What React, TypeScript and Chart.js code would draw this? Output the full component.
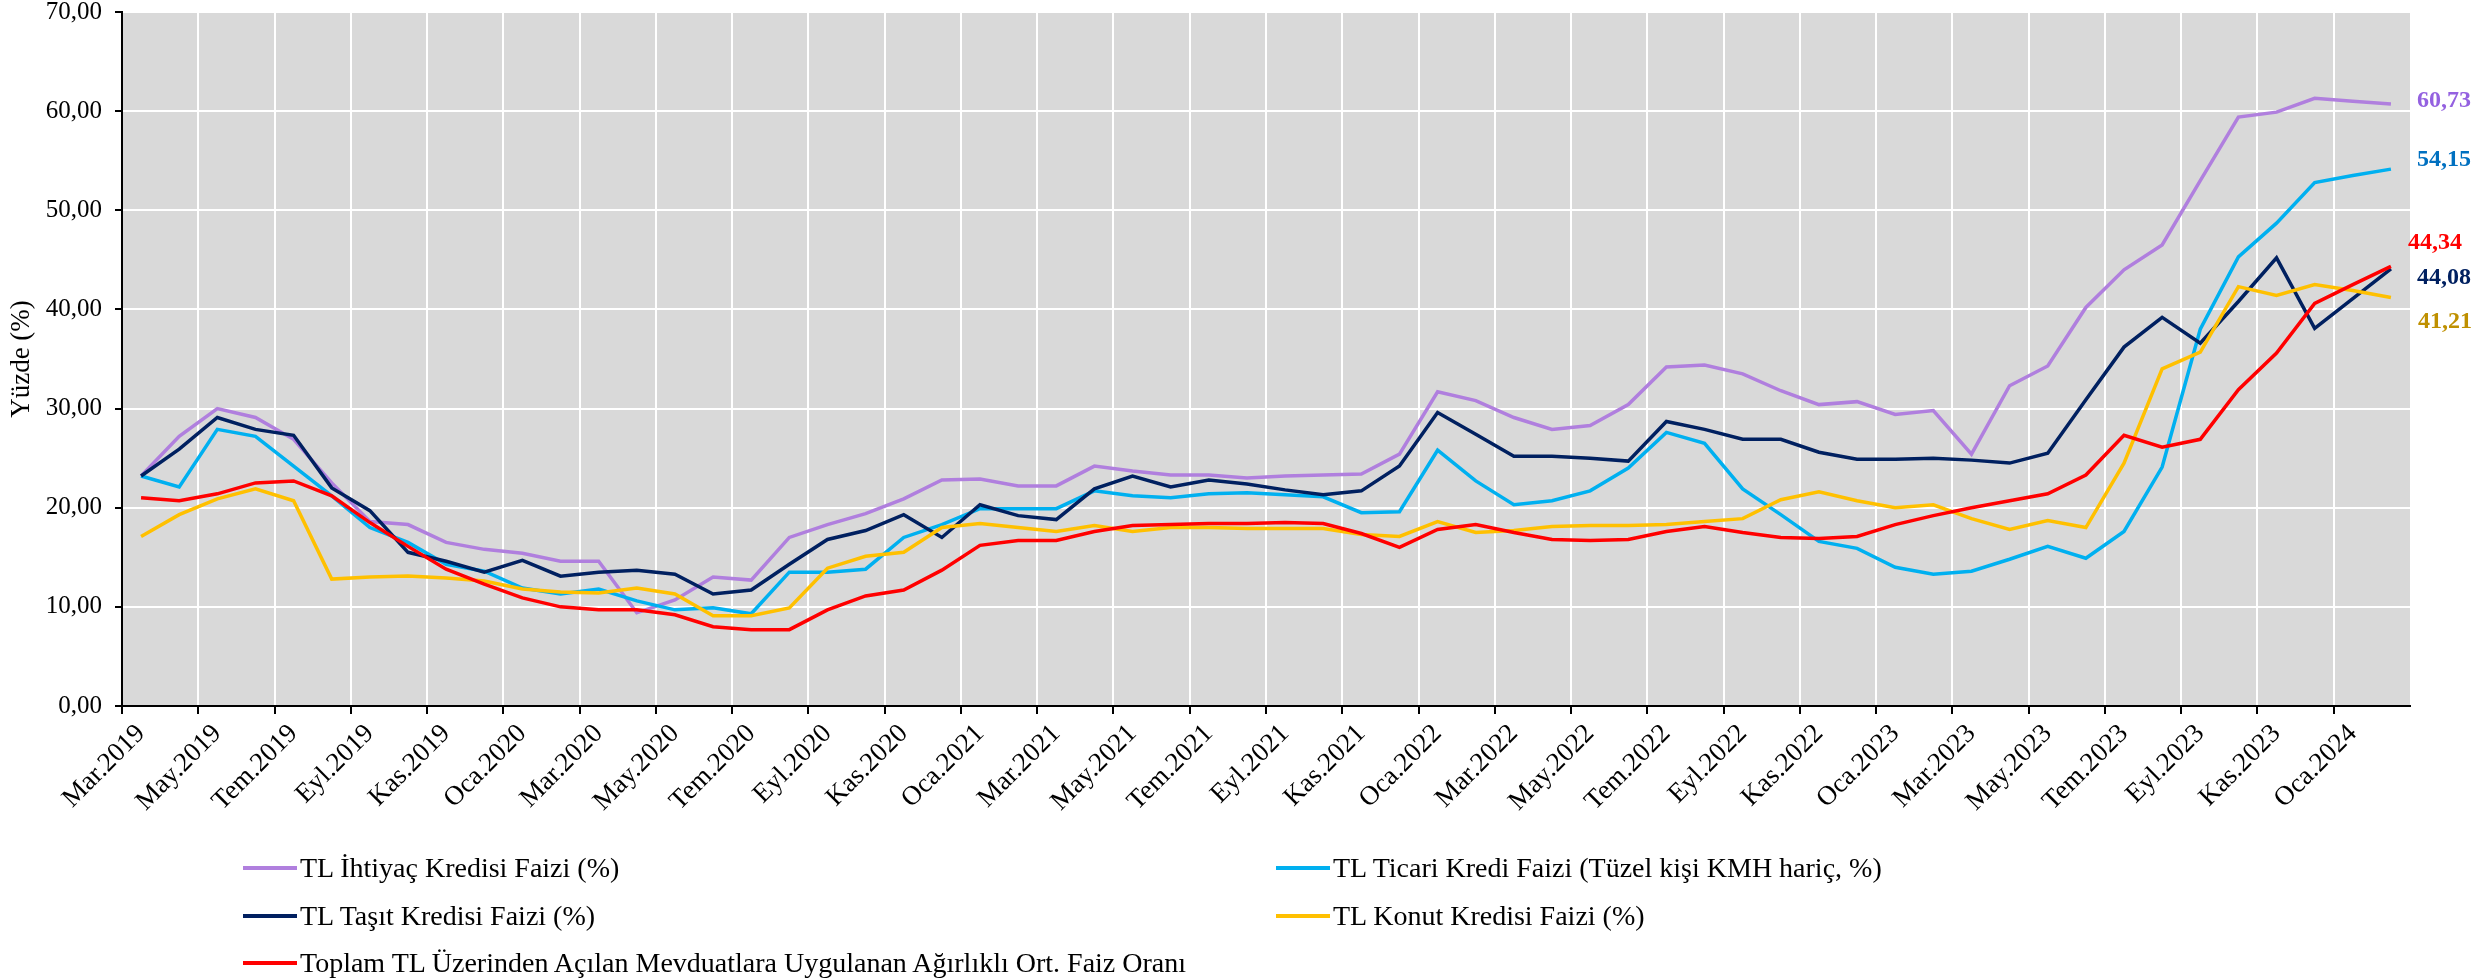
import React, { useEffect, useRef } from 'react';
import { Chart, registerables } from 'chart.js';

Chart.register(...registerables);

const categories = [
  'Mar.2019', 'Nis.2019', 'May.2019', 'Haz.2019', 'Tem.2019', 'Ağu.2019', 'Eyl.2019', 'Eki.2019', 'Kas.2019', 'Ara.2019',
  'Oca.2020', 'Şub.2020', 'Mar.2020', 'Nis.2020', 'May.2020', 'Haz.2020', 'Tem.2020', 'Ağu.2020', 'Eyl.2020', 'Eki.2020', 'Kas.2020', 'Ara.2020',
  'Oca.2021', 'Şub.2021', 'Mar.2021', 'Nis.2021', 'May.2021', 'Haz.2021', 'Tem.2021', 'Ağu.2021', 'Eyl.2021', 'Eki.2021', 'Kas.2021', 'Ara.2021',
  'Oca.2022', 'Şub.2022', 'Mar.2022', 'Nis.2022', 'May.2022', 'Haz.2022', 'Tem.2022', 'Ağu.2022', 'Eyl.2022', 'Eki.2022', 'Kas.2022', 'Ara.2022',
  'Oca.2023', 'Şub.2023', 'Mar.2023', 'Nis.2023', 'May.2023', 'Haz.2023', 'Tem.2023', 'Ağu.2023', 'Eyl.2023', 'Eki.2023', 'Kas.2023', 'Ara.2023',
  'Oca.2024', 'Şub.2024',
];

const ihtiyac = [
  23.2, 27.2, 30.0, 29.1, 26.9, 22.5, 18.6, 18.3, 16.5, 15.8,
  15.4, 14.6, 14.6, 9.4, 10.7, 13.0, 12.7, 17.0, 18.3, 19.4,
  20.9, 22.8, 22.9, 22.2, 22.2, 24.2, 23.7, 23.3, 23.3, 23.0,
  23.2, 23.3, 23.4, 25.4, 31.7, 30.8, 29.1, 27.9, 28.3, 30.4,
  34.2, 34.4, 33.5, 31.8, 30.4, 30.7, 29.4, 29.8, 25.4, 32.3,
  34.3, 40.2, 44.0, 46.5, 53.0, 59.4, 59.9, 61.3, 61.0, 60.73,
];

const ticari = [
  23.2, 22.1, 27.9, 27.2, 24.2, 21.2, 18.0, 16.5, 14.3, 13.6,
  11.9, 11.3, 11.8, 10.6, 9.7, 9.9, 9.3, 13.5, 13.5, 13.8,
  17.0, 18.3, 19.9, 19.9, 19.9, 21.7, 21.2, 21.0, 21.4, 21.5,
  21.3, 21.1, 19.5, 19.6, 25.8, 22.7, 20.3, 20.7, 21.7, 24.0,
  27.6, 26.5, 21.9, 19.3, 16.6, 15.9, 14.0, 13.3, 13.6, 14.8,
  16.1, 14.9, 17.6, 24.1, 38.0, 45.3, 48.7, 52.8, 53.5, 54.15,
];

const tasit = [
  23.2, 25.9, 29.1, 27.9, 27.3, 22.0, 19.7, 15.5, 14.6, 13.5,
  14.7, 13.1, 13.5, 13.7, 13.3, 11.3, 11.7, 14.3, 16.8, 17.7,
  19.3, 17.0, 20.3, 19.2, 18.8, 21.9, 23.2, 22.1, 22.8, 22.4,
  21.8, 21.3, 21.7, 24.2, 29.6, 27.4, 25.2, 25.2, 25.0, 24.7,
  28.7, 27.9, 26.9, 26.9, 25.6, 24.9, 24.9, 25.0, 24.8, 24.5,
  25.5, 30.9, 36.2, 39.2, 36.6, 40.8, 45.2, 38.1, 41.1, 44.08,
];

const konut = [
  17.1, 19.3, 20.9, 21.9, 20.7, 12.8, 13.0, 13.1, 12.9, 12.6,
  11.8, 11.5, 11.4, 11.9, 11.3, 9.1, 9.1, 9.9, 13.9, 15.1,
  15.5, 18.0, 18.4, 18.0, 17.6, 18.2, 17.6, 18.0, 18.0, 17.9,
  17.9, 17.9, 17.3, 17.1, 18.6, 17.5, 17.7, 18.1, 18.2, 18.2,
  18.3, 18.6, 18.9, 20.8, 21.6, 20.7, 20.0, 20.3, 18.9, 17.8,
  18.7, 18.0, 24.5, 34.0, 35.7, 42.3, 41.4, 42.5, 41.9, 41.21,
];

const mevduat = [
  21.0, 20.7, 21.4, 22.5, 22.7, 21.2, 18.5, 16.1, 13.8, 12.3,
  10.9, 10.0, 9.7, 9.7, 9.2, 8.0, 7.7, 7.7, 9.7, 11.1,
  11.7, 13.7, 16.2, 16.7, 16.7, 17.6, 18.2, 18.3, 18.4, 18.4,
  18.5, 18.4, 17.4, 16.0, 17.8, 18.3, 17.5, 16.8, 16.7, 16.8,
  17.6, 18.1, 17.5, 17.0, 16.9, 17.1, 18.3, 19.2, 20.0, 20.7,
  21.4, 23.3, 27.3, 26.1, 26.9, 31.9, 35.6, 40.6, 42.5, 44.34,
];

const endLabels = ['60,73', '54,15', '44,08', '41,21', '44,34'];

const FONT = "'Liberation Serif', 'Times New Roman', serif";

const seriesDefs = [
  { label: 'TL İhtiyaç Kredisi Faizi (%)', data: ihtiyac, color: '#B07FDE', labelColor: '#9461E0', dx: 7, dy: -3, order: 4 },
  { label: 'TL Ticari Kredi Faizi (Tüzel kişi KMH hariç, %)', data: ticari, color: '#00B0F0', labelColor: '#0070C0', dx: 7, dy: -9, order: 3 },
  { label: 'TL Taşıt Kredisi Faizi (%)', data: tasit, color: '#002060', labelColor: '#002060', dx: 7, dy: 9, order: 2 },
  { label: 'TL Konut Kredisi Faizi (%)', data: konut, color: '#FFC000', labelColor: '#BF9000', dx: 8, dy: 24, order: 1 },
  { label: 'Toplam TL Üzerinden Açılan Mevduatlara Uygulanan Ağırlıklı Ort. Faiz Oranı', data: mevduat, color: '#FF0000', labelColor: '#FF0000', dx: -2, dy: -24, order: 0 },
];

const legendLayout = [
  { idx: 0, x: 243, y: 868 },
  { idx: 1, x: 1276, y: 868 },
  { idx: 2, x: 243, y: 916 },
  { idx: 3, x: 1276, y: 916 },
  { idx: 4, x: 243, y: 963 },
];

const fmt = (v: number) => v.toFixed(2).replace('.', ',');

const bgPlugin = {
  id: 'plotBg',
  beforeDraw(chart: any) {
    const { ctx, chartArea } = chart;
    ctx.save();
    ctx.fillStyle = '#D9D9D9';
    ctx.fillRect(chartArea.left, chartArea.top, chartArea.right - chartArea.left, chartArea.bottom - chartArea.top);
    ctx.restore();
  },
};

const endLabelPlugin = {
  id: 'endLabels',
  afterDatasetsDraw(chart: any) {
    const { ctx, chartArea } = chart;
    ctx.save();
    ctx.font = `bold 24px ${FONT}`;
    ctx.textAlign = 'left';
    ctx.textBaseline = 'middle';
    seriesDefs.forEach((s, i) => {
      const meta = chart.getDatasetMeta(i);
      const pt = meta.data[meta.data.length - 1];
      if (!pt) return;
      ctx.fillStyle = s.labelColor;
      ctx.fillText(endLabels[i], chartArea.right + s.dx, pt.y + s.dy);
    });
    ctx.restore();
  },
};

export default function App() {
  const canvasRef = useRef<HTMLCanvasElement | null>(null);

  useEffect(() => {
    if (!canvasRef.current) return;
    const chart = new Chart(canvasRef.current, {
      type: 'line',
      data: {
        labels: categories,
        datasets: seriesDefs.map((s) => ({
          label: s.label,
          data: s.data,
          borderColor: s.color,
          backgroundColor: s.color,
          borderWidth: 3.5,
          pointRadius: 0,
          tension: 0,
          fill: false,
          order: s.order,
        })),
      },
      options: {
        responsive: false,
        animation: false,
        devicePixelRatio: 1,
        layout: { padding: { top: 12, right: 71, left: 0, bottom: 0 } },
        plugins: {
          legend: { display: false },
          tooltip: { enabled: false },
        },
        scales: {
          x: {
            type: 'category',
            offset: true,
            grid: {
              offset: true,
              color: (c: any) => (c.index % 2 === 0 && c.index > 0 ? '#FFFFFF' : 'rgba(0,0,0,0)'),
              lineWidth: 2,
              tickColor: (c: any) => (c.index % 2 === 0 ? '#000000' : 'rgba(0,0,0,0)'),
              tickLength: 8,
              tickWidth: 2,
            },
            border: { color: '#000000', width: 2 },
            ticks: {
              autoSkip: false,
              maxRotation: 45,
              minRotation: 45,
              padding: 4,
              color: '#000000',
              font: { family: FONT, size: 27 },
              callback: (_v: any, idx: number) => (idx % 2 === 0 ? categories[idx] : ''),
            },
            afterFit: (s: any) => {
              s.height = 274;
              s.paddingLeft = 0;
              s.paddingRight = 0;
            },
          },
          y: {
            min: 0,
            max: 70,
            grid: {
              color: (c: any) => (c.tick && c.tick.value === 0 ? 'rgba(0,0,0,0)' : '#FFFFFF'),
              lineWidth: 2,
              tickColor: '#000000',
              tickLength: 7,
              tickWidth: 2,
            },
            border: { color: '#000000', width: 2 },
            ticks: {
              stepSize: 10,
              padding: 13,
              color: '#000000',
              font: { family: FONT, size: 25 },
              callback: (v: any) => fmt(Number(v)),
            },
            title: {
              display: true,
              text: 'Yüzde (%)',
              color: '#000000',
              font: { family: FONT, size: 27 },
              padding: { top: 6, bottom: 0 },
            },
            afterFit: (s: any) => {
              s.width = 122;
              s.paddingTop = 0;
              s.paddingBottom = 0;
            },
          },
        },
      },
      plugins: [bgPlugin, endLabelPlugin],
    });
    return () => chart.destroy();
  }, []);

  return (
    <div style={{ position: 'absolute', left: 0, top: 0, width: 2481, height: 980, background: '#FFFFFF' }}>
      <canvas ref={canvasRef} width={2481} height={980} style={{ display: 'block', width: 2481, height: 980 }} />
      {legendLayout.map((l) => {
        const s = seriesDefs[l.idx];
        return (
          <div
            key={l.idx}
            style={{
              position: 'absolute',
              left: l.x,
              top: l.y - 20,
              height: 40,
              display: 'flex',
              alignItems: 'center',
              fontFamily: FONT,
              fontSize: 28,
              color: '#000000',
              whiteSpace: 'nowrap',
            }}
          >
            <span style={{ display: 'inline-block', width: 54, height: 4, background: s.color, marginRight: 3 }} />
            <span>{s.label}</span>
          </div>
        );
      })}
    </div>
  );
}
